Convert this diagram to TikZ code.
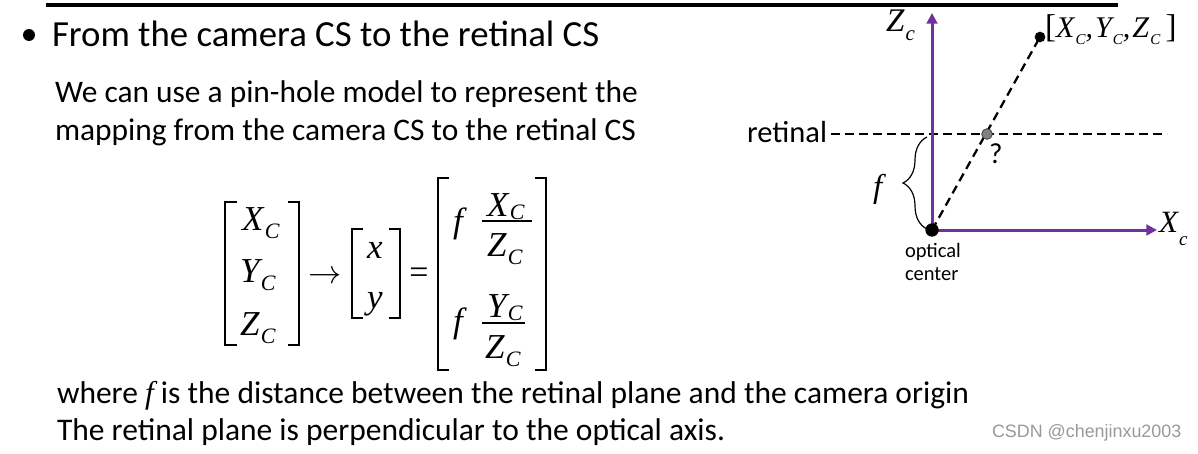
\documentclass[tikz,border=0pt]{standalone}
\usepackage{fontspec}
\setmainfont{Carlito}
\newfontfamily\tms{Liberation Serif}
\newfontfamily\ars{Liberation Sans}
\usetikzlibrary{arrows.meta,decorations.pathreplacing,backgrounds}
\definecolor{axpurple}{HTML}{7030A0}
\newcommand\fpx[1]{\fontsize{\fpeval{0.75*#1}}{\fpeval{0.9*#1}}\selectfont}
% letter, subscript, subscript size (px), drop (px)
\newcommand\VS[4]{#1\kern0.04em\raisebox{-\fpeval{0.75*#4}pt}{\fpx{#3}#2}}
\begin{document}
\begin{tikzpicture}[x=0.75pt,y=-0.75pt,
  tx/.style={inner sep=0pt,outer sep=0pt,anchor=base west},
  mth/.style={tx,font=\tms\itshape\fpx{35}},
  axis/.style={draw=axpurple,line width=2.25pt,-{Triangle[length=8pt,width=8pt]}},
  dsh/.style={line width=1.7pt,dash pattern=on 6.5pt off 4pt},
  brk/.style={line width=1.1pt},
  dot/.style={circle,fill=black,inner sep=0pt,minimum size=#1},
 ]
\useasboundingbox (0,0) rectangle (1198,453);
\begin{pgfonlayer}{background}
\fill[white] (0,0) rectangle (1198,453);
\end{pgfonlayer}
\draw[line width=3pt] (46,5) -- (1118,5);

% bullet and texts
\node[dot=9pt] (bul) at (29,35) {};
\node[tx,font=\fpx{36.8}] (title) at (52,46) {From the camera CS to the retinal CS};
\node[tx,font=\fpx{31.4}] (s1) at (55,102) {We can use a pin-hole model to represent the};
\node[tx,font=\fpx{31.4}] (s2) at (55,140) {mapping from the camera CS to the retinal CS};
\node[tx,font=\fpx{31.5}] (b1) at (57,403) {where {\tms\itshape f} is the distance between the retinal plane and the camera origin};
\node[tx,font=\fpx{31.5}] (b2) at (57,440) {The retinal plane is perpendicular to the optical axis.};
\node[tx,font=\ars\fpx{17.9},text=black!40] (wm) at (992,437) {CSDN @chenjinxu2003};

% formula
\node[mth] (xc) at (242,230) {\VS{X}{C}{22}{8}};
\node[mth] (yc) at (240,282) {\VS{Y}{C}{22}{8}};
\node[mth] (zc) at (240,335) {\VS{Z}{C}{22}{8}};
\node[mth] (xs) at (367,258) {x};
\node[mth] (ys) at (367,308) {y};
\node[mth] (f1) at (453,232) {f};
\node[mth] (n1) at (487,216) {\VS{X}{C}{22}{3}};
\node[mth] (d1) at (487,256) {\VS{Z}{C}{22}{8}};
\node[mth] (f2) at (453,332) {f};
\node[mth] (n2) at (487,317) {\VS{Y}{C}{22}{3}};
\node[mth] (d2) at (485,358) {\VS{Z}{C}{22}{8}};
\node[inner sep=0pt,font=\fpx{31}] (arr) at (325,277) {$\rightarrow$};
\node[inner sep=0pt,font=\tms\fpx{34}] (eq) at (419,276) {=};
\draw[line width=1.1pt] (482,221) -- (532,221);
\draw[line width=1.1pt] (482,323) -- (525,323);
\draw[brk] (237,202) -- (225,202) -- (225,345) -- (237,345);
\draw[brk] (288,202) -- (299,202) -- (299,345) -- (288,345);
\draw[brk] (363,229) -- (352,229) -- (352,318) -- (363,318);
\draw[brk] (389,229) -- (400,229) -- (400,318) -- (389,318);
\draw[brk] (449,178) -- (438,178) -- (438,370) -- (449,370);
\draw[brk] (535,178) -- (546,178) -- (546,370) -- (535,370);

% pin-hole diagram
\node[dot=10pt] (O) at (932,230) {};
\node[dot=8pt] (P) at (1040,37) {};
\node[circle,fill=black!50,draw=black!75,line width=0.6pt,inner sep=0pt,minimum size=8pt] (G) at (987,134) {};
\coordinate (Zt) at (932,13);
\coordinate (Xt) at (1157,230);
\coordinate (Rr) at (1167,134);
\node[tx,font=\fpx{30.5},anchor=base east] (ret) at (827,142) {retinal};
\path (ret.east |- G.center) ++(4,0) coordinate (Rl);
\coordinate (Bb) at (927,229);
\coordinate (Bt) at (927,137);
\begin{pgfonlayer}{background}
\draw[dsh] (Rl) -- (Rr);
\draw[dsh] (O.center) -- (P.center);
\draw[axis] (O.center) -- (Zt);
\draw[axis] (O.center) -- (Xt);
\end{pgfonlayer}
\draw[line width=0.9pt,decorate,decoration={brace,amplitude=18pt}] (Bb) -- (Bt);
\node[tx,font=\tms\itshape\fpx{33}] (flab) at (873,197) {f};
\node[tx,font=\tms\itshape\fpx{33}] (zlab) at (886,32) {\VS{Z}{c}{21}{8}};
\node[tx,font=\tms\itshape\fpx{31}] (xlab) at (1159,232) {\VS{X}{c}{19}{13}};
\node[tx,font=\tms\itshape\fpx{30}] (plab) at (1045,38) {{\upshape\fpx{33}[}\VS{X}{C}{15}{7},\kern1.5pt\VS{Y}{C}{15}{7},\kern1.5pt\VS{Z}{C}{15}{7}\kern4pt{\upshape\fpx{33}]}};
\node[tx,font=\fpx{29}] (q) at (989,163) {?};
\node[tx,font=\fpx{20.5}] (oc1) at (905,257) {optical};
\node[tx,font=\fpx{20.5}] (oc2) at (905,280) {center};
\end{tikzpicture}
\end{document}
